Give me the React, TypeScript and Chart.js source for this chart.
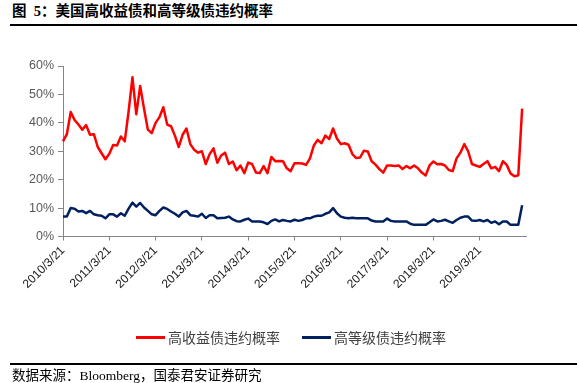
import React, { useEffect, useRef } from "react";
import { Chart, registerables } from "chart.js";

Chart.register(...registerables);

// Monthly observation dates starting 2010/3/21 (x categories)
const months: string[] = [];
for (let i = 0; i <= 120; i++) {
  const y = 2010 + Math.floor((2 + i) / 12);
  const m = ((2 + i) % 12) + 1;
  months.push(`${y}/${m}/21`);
}

const yearTicks = [
  "2010/3/21", "2011/3/21", "2012/3/21", "2013/3/21", "2014/3/21",
  "2015/3/21", "2016/3/21", "2017/3/21", "2018/3/21", "2019/3/21",
];

const seriesNames = ["高收益债违约概率", "高等级债违约概率"];

const highYield = [
  33.5, 36, 43.8, 41, 39.4, 37.6, 39.2, 35.8, 36, 31.5, 29.3, 27.2,
  29.1, 32.2, 32, 35.2, 33.5, 44, 56, 43, 53, 45, 37.6, 36.4,
  40, 42, 45.5, 39.4, 38.8, 35.5, 31.5, 35.8, 38, 32.5, 30.5, 29.5,
  30, 25.5, 29, 31, 26, 28.5, 29.5, 25.5, 26.4, 23.3, 25, 22.3,
  26, 25.5, 22.5, 22.3, 24.8, 22.3, 28, 26.5, 26.6, 26.5, 24, 23,
  25.8, 25.8, 25.7, 25.2, 27.5, 32, 34, 32.8, 35.5, 34.3, 38, 34.5,
  32.5, 32.8, 32.3, 29, 27.6, 27.8, 30.2, 29.9, 26.5, 25.3, 23.7, 22.5,
  25, 25, 24.8, 25, 23.7, 24.8, 24, 25, 24, 22.5, 21.5, 25,
  26.4, 25.4, 25.5, 25, 23.4, 23, 27.5, 29.5, 32.5, 30, 25.5, 25,
  24.5, 25.5, 26.5, 24, 24.5, 23, 26.5, 25.2, 22.2, 21.2, 21.5, 45,
];

const highGrade = [
  7.0, 7.0, 10.0, 9.8, 8.8, 9.0, 8.2, 9.0, 7.8, 7.5, 7.3, 6.4,
  7.8, 7.8, 7.0, 8.2, 7.3, 9.8, 11.9, 10.5, 11.8, 10.2, 9.0, 7.8,
  7.5, 9.0, 10.2, 9.7, 8.8, 8.0, 7.0, 8.5, 9.0, 7.5, 7.3, 7.0,
  8.0, 6.5, 7.5, 7.5, 6.4, 6.5, 6.6, 7.0, 6.0, 5.4, 5.3, 5.9,
  6.3, 5.3, 5.3, 5.3, 5.0, 4.4, 5.5, 6.0, 5.3, 5.8, 5.5, 5.3,
  5.9, 5.5, 5.8, 6.4, 6.4, 7.0, 7.3, 7.3, 8.0, 8.5, 10.0, 8.2,
  7.0, 6.6, 6.4, 6.6, 6.4, 6.4, 6.4, 6.4, 5.6, 5.3, 5.3, 5.3,
  6.3, 5.5, 5.3, 5.3, 5.3, 5.3, 4.5, 4.1, 4.1, 4.1, 4.1, 5.0,
  6.0, 5.3, 5.5, 5.9, 5.3, 4.8, 5.8, 6.6, 7.0, 7.0, 5.6, 5.5,
  5.8, 5.3, 5.8, 4.8, 5.3, 4.3, 5.3, 5.3, 4.1, 4.1, 4.1, 11.0,
];

const yTicks = [0, 10, 20, 30, 40, 50, 60];

const RED = "#FF0000";
const NAVY = "#002060";
const CJK = '"Noto Sans CJK SC", "Liberation Sans", sans-serif';
const SERIF_CJK = '"Liberation Serif", "Noto Sans CJK SC", serif';

export default function App() {
  const ref = useRef<HTMLCanvasElement | null>(null);

  useEffect(() => {
    if (!ref.current) return;
    const chart = new Chart(ref.current, {
      type: "line",
      data: {
        labels: months,
        datasets: [
          {
            label: seriesNames[0],
            data: highYield,
            borderColor: RED,
            backgroundColor: RED,
            borderWidth: 2.5,
            pointRadius: 0,
            tension: 0,
            borderJoinStyle: "round",
          },
          {
            label: seriesNames[1],
            data: highGrade,
            borderColor: NAVY,
            backgroundColor: NAVY,
            borderWidth: 2.5,
            pointRadius: 0,
            tension: 0,
            borderJoinStyle: "round",
          },
        ],
      },
      options: {
        responsive: false,
        animation: false,
        layout: { padding: { left: 0, top: 66, right: 53, bottom: 0 } },
        plugins: { legend: { display: false }, tooltip: { enabled: false } },
        scales: {
          x: {
            type: "category",
            offset: false,
            afterFit: (s: any) => {
              s.height = 146.5;
            },
            border: { display: true, color: "#868686", width: 1 },
            grid: {
              drawOnChartArea: false,
              drawTicks: true,
              tickLength: 4,
              color: (ctx: any) =>
                ctx.tick && yearTicks.includes(months[ctx.tick.value]) ? "#868686" : "rgba(0,0,0,0)",
            },
            ticks: {
              autoSkip: false,
              maxRotation: 45,
              minRotation: 45,
              padding: 3,
              color: "#1a1a1a",
              font: { family: '"Liberation Sans", sans-serif', size: 12 },
              callback: function (this: any, v: any) {
                const l = months[v];
                return yearTicks.includes(l) ? l : "";
              },
            },
          },
          y: {
            min: 0,
            max: 60,
            afterFit: (s: any) => {
              s.width = 63;
            },
            afterBuildTicks: (s: any) => {
              s.ticks = yTicks.map((v) => ({ value: v }));
            },
            border: { display: true, color: "#868686", width: 1 },
            grid: { drawOnChartArea: false, drawTicks: true, tickLength: 5, color: "#868686" },
            ticks: {
              padding: 4,
              color: "#595959",
              font: { family: '"Liberation Sans", sans-serif', size: 12.5 },
              callback: (v: any) => `${v}%`,
            },
          },
        },
      },
    });
    return () => chart.destroy();
  }, []);

  const legendItem = (color: string, text: string, left: number) => (
    <div
      style={{
        position: "absolute",
        left,
        top: 328,
        height: 18,
        display: "flex",
        alignItems: "center",
        fontFamily: CJK,
        fontSize: 14,
        color: "#404040",
        whiteSpace: "nowrap",
      }}
    >
      <span style={{ display: "inline-block", width: 29, height: 3, background: color, marginRight: 3 }} />
      <span>{text}</span>
    </div>
  );

  return (
    <div style={{ position: "absolute", left: 0, top: 0, width: 579, height: 383, background: "#fff", overflow: "hidden" }}>
      <div
        style={{
          position: "absolute",
          left: 12,
          top: 2,
          fontFamily: SERIF_CJK,
          fontWeight: "bold",
          fontSize: 14.5,
          lineHeight: "18px",
          color: "#000",
          whiteSpace: "pre",
        }}
      >
        {"图  5：美国高收益债和高等级债违约概率"}
      </div>
      <div style={{ position: "absolute", left: 10, top: 24, width: 567, height: 1.5, background: "#000" }} />
      <canvas ref={ref} width={579} height={383} style={{ position: "absolute", left: 0, top: 0 }} />
      {legendItem(RED, seriesNames[0], 136)}
      {legendItem(NAVY, seriesNames[1], 302)}
      <div style={{ position: "absolute", left: 10, top: 363, width: 567, height: 1.5, background: "#000" }} />
      <div
        style={{
          position: "absolute",
          left: 12,
          top: 368,
          fontFamily: SERIF_CJK,
          fontSize: 13.5,
          lineHeight: "16px",
          color: "#000",
          whiteSpace: "nowrap",
        }}
      >
        数据来源：Bloomberg，国泰君安证券研究
      </div>
    </div>
  );
}
